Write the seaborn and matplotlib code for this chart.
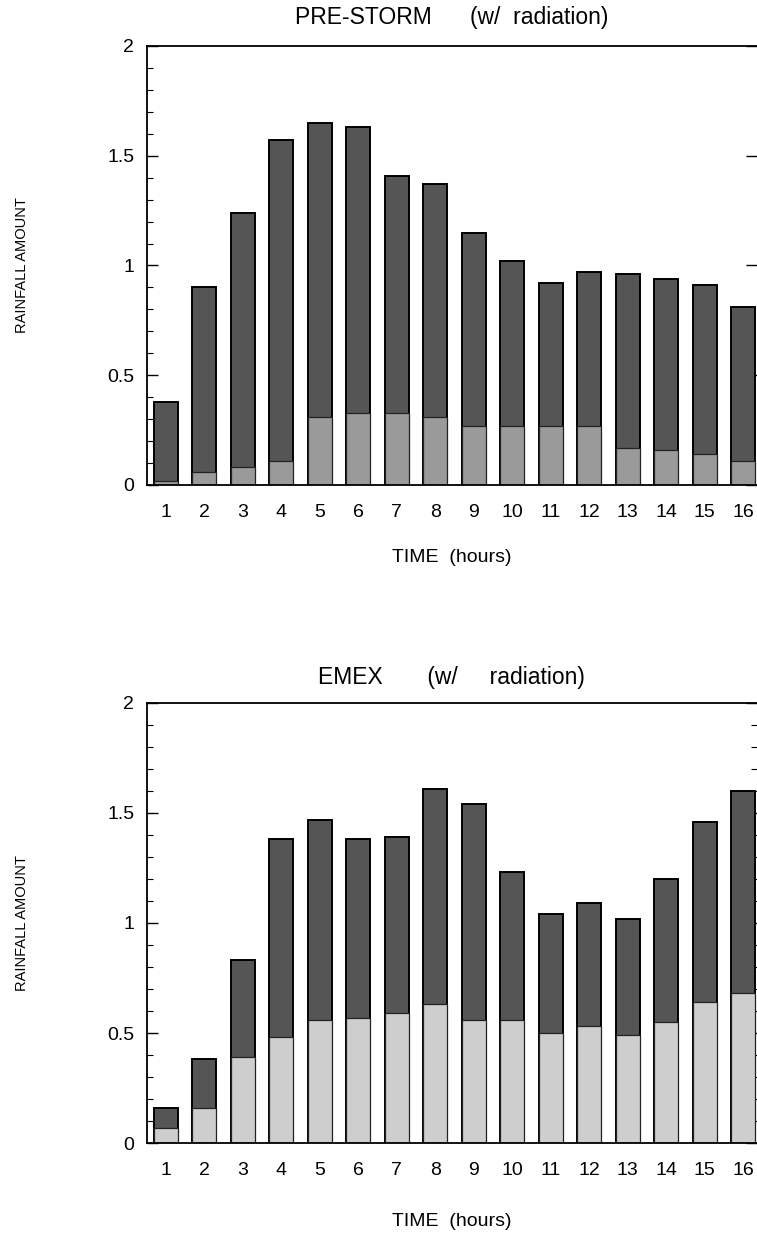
import numpy as np
import pandas as pd
import matplotlib
matplotlib.use("Agg")
import matplotlib.pyplot as plt
from matplotlib.ticker import MultipleLocator
import seaborn as sns

# ---- data ----
hours = list(range(1, 17))

pre_total = [0.38, 0.90, 1.24, 1.57, 1.65, 1.63, 1.41, 1.37, 1.15, 1.02, 0.92, 0.97, 0.96, 0.94, 0.91, 0.81]
pre_lower = [0.02, 0.06, 0.08, 0.11, 0.31, 0.33, 0.33, 0.31, 0.27, 0.27, 0.27, 0.27, 0.17, 0.16, 0.14, 0.11]

emex_total = [0.16, 0.38, 0.83, 1.38, 1.47, 1.38, 1.39, 1.61, 1.54, 1.23, 1.04, 1.09, 1.02, 1.20, 1.46, 1.60]
emex_lower = [0.07, 0.16, 0.39, 0.48, 0.56, 0.57, 0.59, 0.63, 0.56, 0.56, 0.50, 0.53, 0.49, 0.55, 0.64, 0.68]

titles = ["PRE-STORM      (w/  radiation)", "EMEX       (w/     radiation)"]
ylabel = "RAINFALL AMOUNT"
xlabel = "TIME  (hours)"
yticks = [0, 0.5, 1, 1.5, 2]
yticklabels = ["0", "0.5", "1", "1.5", "2"]

sns.set_style("white")
plt.rcParams['font.family'] = ['Liberation Sans', 'DejaVu Sans']
plt.rcParams['text.color'] = 'black'
plt.rcParams['axes.labelcolor'] = 'black'
plt.rcParams['xtick.color'] = 'black'
plt.rcParams['ytick.color'] = 'black'

fig = plt.figure(figsize=(7.57, 12.33), dpi=100)
W, H = 757, 1233
LEFT_PX = 146.7

def make_ax(top_px, bottom_px):
    left = LEFT_PX / W
    return fig.add_axes([left, 1 - bottom_px / H, 1.0 - left, (bottom_px - top_px) / H])

panels = [
    (make_ax(46, 485), pre_total, pre_lower, titles[0], "#9a9a9a", False, 16, 20),
    (make_ax(703, 1143), emex_total, emex_lower, titles[1], "#cecece", True, 14, 24),
]

for ax, total, lower, title, light, right_minor, tpad, xpad in panels:
    df = pd.DataFrame({"hour": hours, "total": total, "lower": lower})
    sns.barplot(data=df, x="hour", y="total", native_scale=True, width=0.62,
                color="#555555", saturation=1, edgecolor="black", linewidth=1.4, ax=ax)
    sns.barplot(data=df, x="hour", y="lower", native_scale=True, width=0.62,
                color=light, saturation=1, edgecolor="#222222", linewidth=0.9, ax=ax)
    ax.set_xlim(0.5, 16.36)
    ax.set_ylim(0, 2)
    ax.set_yticks(yticks)
    ax.set_yticklabels(yticklabels)
    ax.yaxis.set_minor_locator(MultipleLocator(0.1))
    ax.set_xticks(hours)
    ax.set_xticklabels([str(h) for h in hours])
    ax.tick_params(axis='x', length=0, pad=14, labelsize=14)
    ax.tick_params(axis='y', which='major', direction='in', length=8, width=1,
                   left=True, right=True, labelsize=14, pad=9)
    ax.tick_params(axis='y', which='minor', direction='in', length=4, width=0.8,
                   left=True, right=right_minor)
    for s in ['left', 'bottom', 'top']:
        ax.spines[s].set_visible(True)
        ax.spines[s].set_color('black')
        ax.spines[s].set_linewidth(1.3)
    ax.spines['right'].set_visible(False)
    ax.set_title(title, fontsize=16.5, pad=tpad)
    ax.set_xlabel(xlabel, fontsize=14, labelpad=xpad)
    ax.set_ylabel(ylabel, fontsize=10.5)
    ax.yaxis.set_label_coords((29 - LEFT_PX) / (W - LEFT_PX), 0.5)
    ax.grid(False)

fig.savefig("out.png", dpi=100, facecolor="white")
